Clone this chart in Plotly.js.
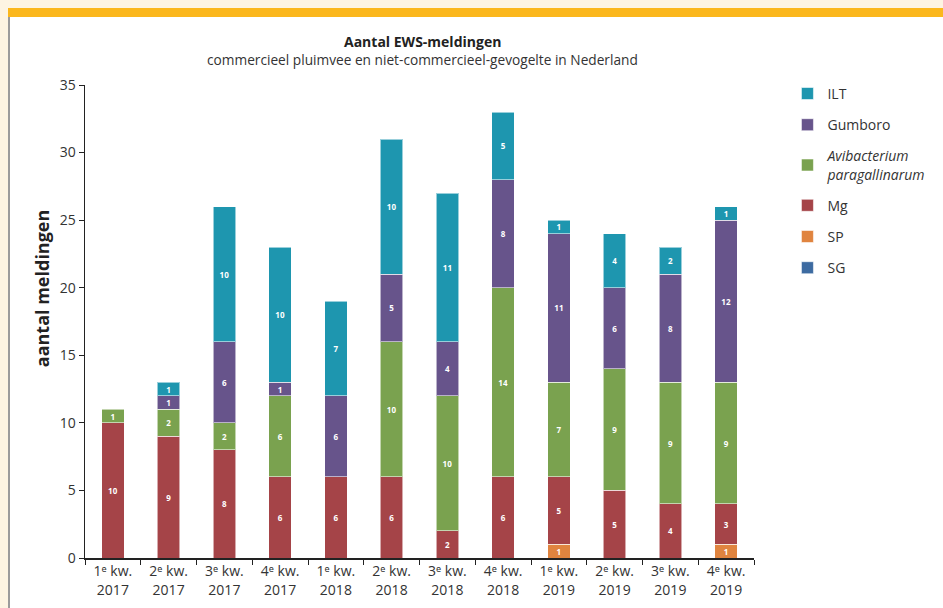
<!DOCTYPE html>
<html>
<head>
<meta charset="utf-8">
<script src="https://cdn.plot.ly/plotly-3.0.1.min.js"></script>
<style>
  html, body { margin: 0; padding: 0; background: #fdf4e2; }
  #wrap { position: relative; width: 943px; height: 608px; overflow: hidden; }
  #orange { position: absolute; left: 8px; top: 8px; width: 935px; height: 9px; background: #fbb71c; }
  #panel { position: absolute; left: 8px; top: 17px; width: 935px; height: 591px; background: #ffffff; border-left: 2px solid #9b9b9b; box-sizing: border-box; }
  #chart { position: absolute; left: 0; top: 0; width: 943px; height: 608px; }
</style>
</head>
<body>
<div id="wrap">
  <div id="orange"></div>
  <div id="panel"></div>
  <div id="chart"></div>
</div>
<script>
// Categories (quarters)
const categories = [
  "1ᵉ kw.<br>2017", "2ᵉ kw.<br>2017", "3ᵉ kw.<br>2017", "4ᵉ kw.<br>2017",
  "1ᵉ kw.<br>2018", "2ᵉ kw.<br>2018", "3ᵉ kw.<br>2018", "4ᵉ kw.<br>2018",
  "1ᵉ kw.<br>2019", "2ᵉ kw.<br>2019", "3ᵉ kw.<br>2019", "4ᵉ kw.<br>2019"
];

// Series values (stack order bottom to top)
const SG   = [0, 0, 0, 0, 0, 0, 0, 0, 0, 0, 0, 0];
const SP   = [0, 0, 0, 0, 0, 0, 0, 0, 1, 0, 0, 1];
const Mg   = [10, 9, 8, 6, 6, 6, 2, 6, 5, 5, 4, 3];
const Avi  = [1, 2, 2, 6, 0, 10, 10, 14, 7, 9, 9, 9];
const Gumboro = [0, 1, 6, 1, 6, 5, 4, 8, 11, 6, 8, 12];
const ILT  = [0, 1, 10, 10, 7, 10, 11, 5, 1, 4, 2, 1];

const yTicks = [0, 5, 10, 15, 20, 25, 30, 35];

const series = [
  { name: "SG", values: SG, color: "#3d6ba1" },
  { name: "SP", values: SP, color: "#e0843f" },
  { name: "Mg", values: Mg, color: "#a54448" },
  { name: "<i>Avibacterium<br>paragallinarum</i>", values: Avi, color: "#7aa24f" },
  { name: "Gumboro", values: Gumboro, color: "#67548b" },
  { name: "ILT", values: ILT, color: "#1e96af" }
];

const FONT = "'Open Sans', 'Noto Sans', 'DejaVu Sans', sans-serif";

const traces = series.map((s, i) => {
  const idx = s.values.map((v, j) => j).filter(j => s.values[j] > 0);
  const hasData = idx.length > 0;
  const xs = hasData ? idx.map(j => categories[j]) : categories;
  const ys = hasData ? idx.map(j => s.values[j]) : s.values;
  const t = {
    type: "bar",
    name: s.name,
    x: xs,
    y: ys,
    legendgroup: "g" + i,
    legendrank: series.length - i,
    marker: { color: s.color, line: { color: "rgba(255,255,255,0.55)", width: 1 } },
    hoverinfo: "name+y"
  };
  if (hasData) {
    t.text = ys.map(v => String(v));
    t.textposition = "inside";
    t.insidetextanchor = "middle";
    t.textangle = 0;
    t.constraintext = "none";
    t.textfont = { color: "#ffffff", size: 8, family: FONT, weight: "bold" };
  } else {
    t.textposition = "none";
  }
  return t;
});

const layout = {
  width: 943,
  height: 608,
  barmode: "stack",
  bargap: 0.6,
  paper_bgcolor: "rgba(0,0,0,0)",
  plot_bgcolor: "rgba(0,0,0,0)",
  margin: { l: 85, r: 148, t: 85, b: 50, pad: 0 },
  font: { family: FONT, color: "#333333", size: 14 },
  xaxis: {
    type: "category",
    categoryorder: "array",
    categoryarray: categories,
    tickson: "boundaries",
    ticks: "outside",
    ticklen: 5,
    tickcolor: "#222",
    showline: true,
    linecolor: "#222",
    linewidth: 1.5,
    showgrid: false,
    tickfont: { size: 14, color: "#333" },
    fixedrange: true
  },
  yaxis: {
    range: [0, 35],
    tickvals: yTicks,
    ticks: "outside",
    ticklen: 5,
    tickcolor: "#222",
    showline: true,
    linecolor: "#222",
    linewidth: 1.5,
    showgrid: false,
    zeroline: false,
    tickfont: { size: 14, color: "#333" },
    fixedrange: true
  },
  legend: {
    x: 1.05, xanchor: "left",
    y: 1.015, yanchor: "top",
    traceorder: "grouped",
    tracegroupgap: 10,
    font: { size: 14, color: "#333" },
    bgcolor: "rgba(0,0,0,0)"
  },
  annotations: [
    { text: "<b>Aantal EWS-meldingen</b>", xref: "paper", yref: "paper", x: 0.504, y: 1.091, xanchor: "center", yanchor: "middle", showarrow: false, font: { size: 14, color: "#222" } },
    { text: "commercieel pluimvee en niet-commercieel-gevogelte in Nederland", xref: "paper", yref: "paper", x: 0.504, y: 1.053, xanchor: "center", yanchor: "middle", showarrow: false, font: { size: 13.7, color: "#333" } },
    { text: "<b>aantal meldingen</b>", xref: "paper", yref: "paper", x: -0.063, y: 0.57, xanchor: "center", yanchor: "middle", textangle: -90, showarrow: false, font: { size: 18, color: "#222" } }
  ],
  showlegend: true
};

Plotly.newPlot("chart", traces, layout, { displayModeBar: false, staticPlot: true });
</script>
</body>
</html>
